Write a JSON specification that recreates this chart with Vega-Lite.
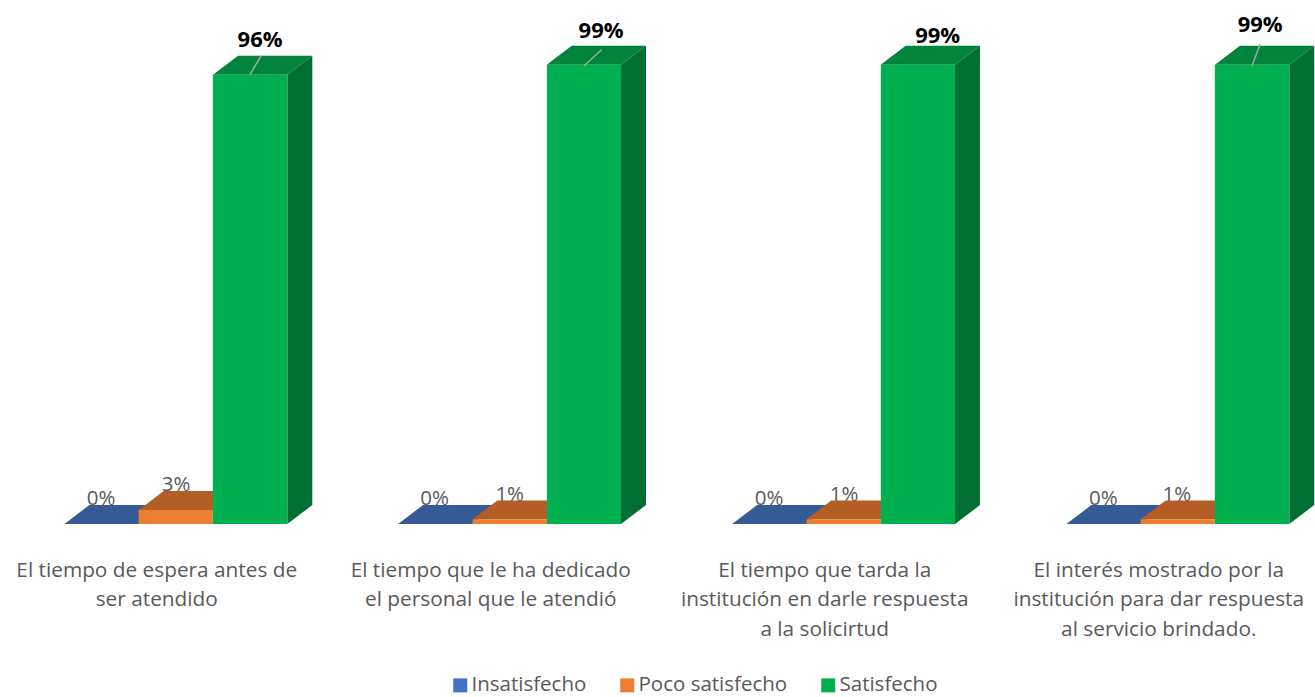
{
"$schema":"https://vega.github.io/schema/vega-lite/v6.json",
"width":1315,"height":524,"padding":{"left":0,"top":0,"right":0,"bottom":173},"autosize":{"type":"none"},"background":"white",
"config":{"view":{"stroke":null},"font":"Open Sans"},
"data":{"values":[
{"q":"El tiempo de espera antes de\nser atendido","serie":"Insatisfecho","valor":0},
{"q":"El tiempo de espera antes de\nser atendido","serie":"Poco satisfecho","valor":3},
{"q":"El tiempo de espera antes de\nser atendido","serie":"Satisfecho","valor":96.8},
{"q":"El tiempo que le ha dedicado\nel  personal que le atendió","serie":"Insatisfecho","valor":0},
{"q":"El tiempo que le ha dedicado\nel  personal que le atendió","serie":"Poco satisfecho","valor":1},
{"q":"El tiempo que le ha dedicado\nel  personal que le atendió","serie":"Satisfecho","valor":99},
{"q":"El tiempo que  tarda la\ninstitución en darle respuesta\na la solicirtud","serie":"Insatisfecho","valor":0},
{"q":"El tiempo que  tarda la\ninstitución en darle respuesta\na la solicirtud","serie":"Poco satisfecho","valor":1},
{"q":"El tiempo que  tarda la\ninstitución en darle respuesta\na la solicirtud","serie":"Satisfecho","valor":99},
{"q":"El interés mostrado por la\ninstitución para dar respuesta\nal servicio brindado.","serie":"Insatisfecho","valor":0},
{"q":"El interés mostrado por la\ninstitución para dar respuesta\nal servicio brindado.","serie":"Poco satisfecho","valor":1},
{"q":"El interés mostrado por la\ninstitución para dar respuesta\nal servicio brindado.","serie":"Satisfecho","valor":99}
]},
"datasets":{
"caras":[
{"b":"1a","c":"Insatisfecho tapa","x":0.867,"y":0,"y2":0},{"b":"1a","c":"Insatisfecho tapa","x":1.203,"y":0,"y2":4.09},{"b":"1a","c":"Insatisfecho tapa","x":1.867,"y":0,"y2":4.09},{"b":"1a","c":"Insatisfecho tapa","x":2.203,"y":4.09,"y2":4.09},
{"b":"2a","c":"Insatisfecho tapa","x":5.358,"y":0,"y2":0},{"b":"2a","c":"Insatisfecho tapa","x":5.694,"y":0,"y2":4.09},{"b":"2a","c":"Insatisfecho tapa","x":6.358,"y":0,"y2":4.09},{"b":"2a","c":"Insatisfecho tapa","x":6.694,"y":4.09,"y2":4.09},
{"b":"3a","c":"Insatisfecho tapa","x":9.853,"y":0,"y2":0},{"b":"3a","c":"Insatisfecho tapa","x":10.189,"y":0,"y2":4.09},{"b":"3a","c":"Insatisfecho tapa","x":10.853,"y":0,"y2":4.09},{"b":"3a","c":"Insatisfecho tapa","x":11.189,"y":4.09,"y2":4.09},
{"b":"4a","c":"Insatisfecho tapa","x":14.352,"y":0,"y2":0},{"b":"4a","c":"Insatisfecho tapa","x":14.688,"y":0,"y2":4.09},{"b":"4a","c":"Insatisfecho tapa","x":15.352,"y":0,"y2":4.09},{"b":"4a","c":"Insatisfecho tapa","x":15.688,"y":4.09,"y2":4.09},
{"b":"1b","c":"Poco satisfecho tapa","x":1.867,"y":3,"y2":3},{"b":"1b","c":"Poco satisfecho tapa","x":2.203,"y":3,"y2":7.09},{"b":"1b","c":"Poco satisfecho tapa","x":2.867,"y":3,"y2":7.09},{"b":"1b","c":"Poco satisfecho tapa","x":3.203,"y":7.09,"y2":7.09},
{"b":"2b","c":"Poco satisfecho tapa","x":6.358,"y":1,"y2":1},{"b":"2b","c":"Poco satisfecho tapa","x":6.694,"y":1,"y2":5.09},{"b":"2b","c":"Poco satisfecho tapa","x":7.358,"y":1,"y2":5.09},{"b":"2b","c":"Poco satisfecho tapa","x":7.694,"y":5.09,"y2":5.09},
{"b":"3b","c":"Poco satisfecho tapa","x":10.853,"y":1,"y2":1},{"b":"3b","c":"Poco satisfecho tapa","x":11.189,"y":1,"y2":5.09},{"b":"3b","c":"Poco satisfecho tapa","x":11.853,"y":1,"y2":5.09},{"b":"3b","c":"Poco satisfecho tapa","x":12.189,"y":5.09,"y2":5.09},
{"b":"4b","c":"Poco satisfecho tapa","x":15.352,"y":1,"y2":1},{"b":"4b","c":"Poco satisfecho tapa","x":15.688,"y":1,"y2":5.09},{"b":"4b","c":"Poco satisfecho tapa","x":16.352,"y":1,"y2":5.09},{"b":"4b","c":"Poco satisfecho tapa","x":16.688,"y":5.09,"y2":5.09},
{"b":"1c","c":"Satisfecho tapa","x":2.867,"y":96.8,"y2":96.8},{"b":"1c","c":"Satisfecho tapa","x":3.203,"y":96.8,"y2":100.89},{"b":"1c","c":"Satisfecho tapa","x":3.867,"y":96.8,"y2":100.89},{"b":"1c","c":"Satisfecho tapa","x":4.203,"y":100.89,"y2":100.89},
{"b":"2c","c":"Satisfecho tapa","x":7.358,"y":99,"y2":99},{"b":"2c","c":"Satisfecho tapa","x":7.694,"y":99,"y2":103.09},{"b":"2c","c":"Satisfecho tapa","x":8.358,"y":99,"y2":103.09},{"b":"2c","c":"Satisfecho tapa","x":8.694,"y":103.09,"y2":103.09},
{"b":"3c","c":"Satisfecho tapa","x":11.853,"y":99,"y2":99},{"b":"3c","c":"Satisfecho tapa","x":12.189,"y":99,"y2":103.09},{"b":"3c","c":"Satisfecho tapa","x":12.853,"y":99,"y2":103.09},{"b":"3c","c":"Satisfecho tapa","x":13.189,"y":103.09,"y2":103.09},
{"b":"4c","c":"Satisfecho tapa","x":16.352,"y":99,"y2":99},{"b":"4c","c":"Satisfecho tapa","x":16.688,"y":99,"y2":103.09},{"b":"4c","c":"Satisfecho tapa","x":17.352,"y":99,"y2":103.09},{"b":"4c","c":"Satisfecho tapa","x":17.688,"y":103.09,"y2":103.09},
{"b":"1d","c":"Satisfecho lado","x":3.867,"y":0,"y2":96.8},{"b":"1d","c":"Satisfecho lado","x":4.203,"y":4.09,"y2":100.89},
{"b":"2d","c":"Satisfecho lado","x":8.358,"y":0,"y2":99},{"b":"2d","c":"Satisfecho lado","x":8.694,"y":4.09,"y2":103.09},
{"b":"3d","c":"Satisfecho lado","x":12.853,"y":0,"y2":99},{"b":"3d","c":"Satisfecho lado","x":13.189,"y":4.09,"y2":103.09},
{"b":"4d","c":"Satisfecho lado","x":17.352,"y":0,"y2":99},{"b":"4d","c":"Satisfecho lado","x":17.688,"y":4.09,"y2":103.09}
],
"etiquetas":[
{"t":"0%","x":1.36,"y":5.6,"s":"Insatisfecho"},{"t":"3%","x":2.37,"y":8.6,"s":"Poco satisfecho"},{"t":"96%","x":3.5,"y":104.3,"s":"Satisfecho"},
{"t":"0%","x":5.85,"y":5.6,"s":"Insatisfecho"},{"t":"1%","x":6.86,"y":6.47,"s":"Poco satisfecho"},{"t":"99%","x":8.09,"y":106.25,"s":"Satisfecho"},
{"t":"0%","x":10.35,"y":5.6,"s":"Insatisfecho"},{"t":"1%","x":11.36,"y":6.47,"s":"Poco satisfecho"},{"t":"99%","x":12.62,"y":105.2,"s":"Satisfecho"},
{"t":"0%","x":14.85,"y":5.6,"s":"Insatisfecho"},{"t":"1%","x":15.84,"y":6.47,"s":"Poco satisfecho"},{"t":"99%","x":16.96,"y":107.5,"s":"Satisfecho"}
],
"guias":[
{"x":3.365,"x2":3.513,"y":96.9,"y2":100.9},
{"x":7.86,"x2":8.095,"y":98.7,"y2":102.2},
{"x":16.85,"x2":16.96,"y":98.7,"y2":103.4}
]
},
"resolve":{"scale":{"x":"independent"}},
"layer":[
{"data":{"name":"caras"},"mark":{"type":"area","orient":"vertical"},
 "encoding":{
 "x":{"field":"x","type":"quantitative","scale":{"domain":[0,17.698]},"axis":null},
 "y":{"field":"y","type":"quantitative","stack":null,"scale":{"domain":[0,112.93],"nice":false,"zero":false},"axis":null},
 "y2":{"field":"y2"},
 "detail":{"field":"b"},
 "color":{"field":"c","type":"nominal","scale":{"domain":["Insatisfecho","Poco satisfecho","Satisfecho","Insatisfecho tapa","Poco satisfecho tapa","Satisfecho tapa","Satisfecho lado"],"range":["#4472C4","#ED7D31","#00B050","#355A96","#B35E25","#00843C","#006F33"]},
  "legend":{"values":["Insatisfecho","Poco satisfecho","Satisfecho"],"title":null,"orient":"none","legendX":450,"legendY":675,"direction":"horizontal","columns":3,"columnPadding":30,"symbolType":"square","symbolSize":196,"symbolStrokeWidth":0,"labelFontSize":20.5,"labelColor":"#595959","labelFont":"Open Sans","labelOffset":1,"labelLimit":400}}
 }},
{"mark":{"type":"bar"},
 "encoding":{
 "x":{"field":"q","type":"nominal","sort":null,"scale":{"range":[8.73,1344.73],"paddingInner":0.3333,"paddingOuter":0.16667},
  "axis":{"title":null,"domain":false,"ticks":false,"labelAngle":0,"labelOffset":-19,"labelPadding":46,"labelFontSize":20.8,"labelColor":"#595959","labelFont":"Open Sans","labelLineHeight":29.5,"labelExpr":"split(datum.label,'\\n')","labelLimit":0,"labelOverlap":false,"labelBound":false,"labelFlush":false,"labelBaseline":"middle","grid":false}},
 "xOffset":{"field":"serie","type":"nominal","sort":["Insatisfecho","Poco satisfecho","Satisfecho"]},
 "y":{"field":"valor","type":"quantitative","stack":null,"scale":{"domain":[0,112.93],"nice":false,"zero":false}},
 "color":{"field":"serie","type":"nominal"}
 }},
{"data":{"name":"guias"},"mark":{"type":"rule","color":"#A6A6A6","strokeWidth":1.5},
 "encoding":{
 "x":{"field":"x","type":"quantitative","scale":{"domain":[0,17.698]},"axis":null},
 "x2":{"field":"x2"},
 "y":{"field":"y","type":"quantitative","scale":{"domain":[0,112.93],"nice":false,"zero":false}},
 "y2":{"field":"y2"}
 }},
{"data":{"name":"etiquetas"},"transform":[{"filter":"datum.s!=='Satisfecho'"}],
 "mark":{"type":"text","fontSize":20.5,"dy":1,"color":"#595959","font":"Open Sans","align":"center","baseline":"middle"},
 "encoding":{
 "x":{"field":"x","type":"quantitative","scale":{"domain":[0,17.698]},"axis":null},
 "y":{"field":"y","type":"quantitative","scale":{"domain":[0,112.93],"nice":false,"zero":false}},
 "text":{"field":"t"}
 }},
{"data":{"name":"etiquetas"},"transform":[{"filter":"datum.s==='Satisfecho'"}],
 "mark":{"type":"text","fontSize":22,"fontWeight":"bold","color":"#000000","font":"Open Sans","align":"center","baseline":"middle"},
 "encoding":{
 "x":{"field":"x","type":"quantitative","scale":{"domain":[0,17.698]},"axis":null},
 "y":{"field":"y","type":"quantitative","scale":{"domain":[0,112.93],"nice":false,"zero":false}},
 "text":{"field":"t"}
 }}
]
}
